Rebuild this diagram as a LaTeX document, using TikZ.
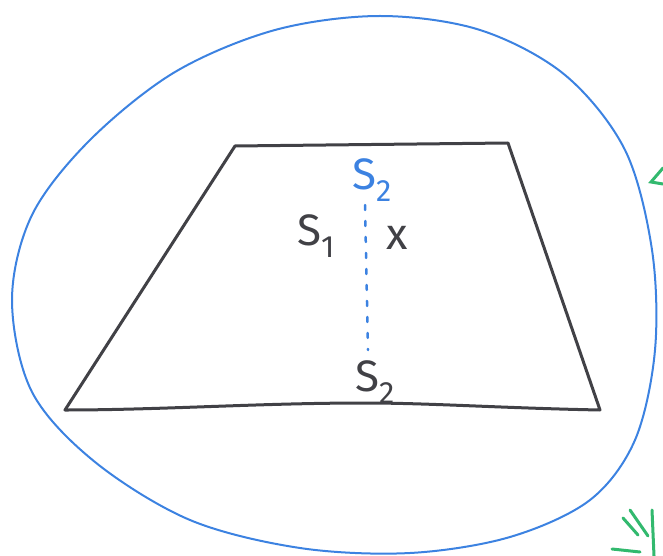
\documentclass[tikz,border=0pt]{standalone}
\usepackage{fontspec}
\setmainfont{Fira Sans}
\definecolor{penblue}{RGB}{60,130,225}
\definecolor{lightblue}{RGB}{110,180,230}
\definecolor{pengreen}{RGB}{50,185,110}
\definecolor{penblack}{RGB}{65,65,70}
\tikzset{
  loopline/.style={draw=penblue, line width=2pt},
  trap/.style={draw=penblack, line width=3pt, line join=round, line cap=round},
  lbl/.style={inner sep=0pt, font=\fontsize{44}{48}\selectfont},
  dotline/.style={draw=penblue, line width=2.5pt, dash pattern=on 5pt off 11pt, line cap=round},
  greenmark/.style={draw=pengreen, line width=3pt, line cap=round}
}
\begin{document}
\begin{tikzpicture}[x=1pt,y=-1pt]
\path[use as bounding box] (0,0) rectangle (663,556);
% blue loop
\draw[loopline] plot[smooth cycle, tension=0.55] coordinates {
 (380,16) (480,30) (565,75) (625,150) (652,250) (655,350) (635,440)
 (590,500) (510,537) (410,553) (300,548) (190,520) (95,462)
 (32,392) (12,300) (32,215) (90,140) (175,72) (275,30)};
% green marks at right edge
\draw[greenmark] (663,168) -- (651,182) -- (663,184);
\draw[greenmark] (623,518) -- (638,535);
\draw[greenmark] (630,510) -- (648,536);
\draw[greenmark] (652,510) -- (654,556);
\draw[greenmark] (612,549) -- (640,552);
% trapezoid
\coordinate (tl) at (235,146);
\coordinate (tr) at (508,143);
\coordinate (br) at (600,410);
\coordinate (bl) at (65,410);
\draw[trap] (tl) -- (tr) -- (br) .. controls (500,408) and (430,403) .. (365,403) .. controls (260,403) and (160,410) .. (bl) -- cycle;
% labels
\node[lbl, text=penblue] (s2top) at (372,180) {S\textsubscript{2}};
\node[lbl, text=penblack] (s1) at (316,236) {S\textsubscript{1}};
\node[lbl, text=penblack] (x) at (397,238) {x};
\node[lbl, text=penblack] (s2bot) at (375,382) {S\textsubscript{2}};
\coordinate (dtop) at (365,205);
\coordinate (dbot) at (368,350);
\draw[dotline] (dtop) -- (dbot);
\end{tikzpicture}
\end{document}
